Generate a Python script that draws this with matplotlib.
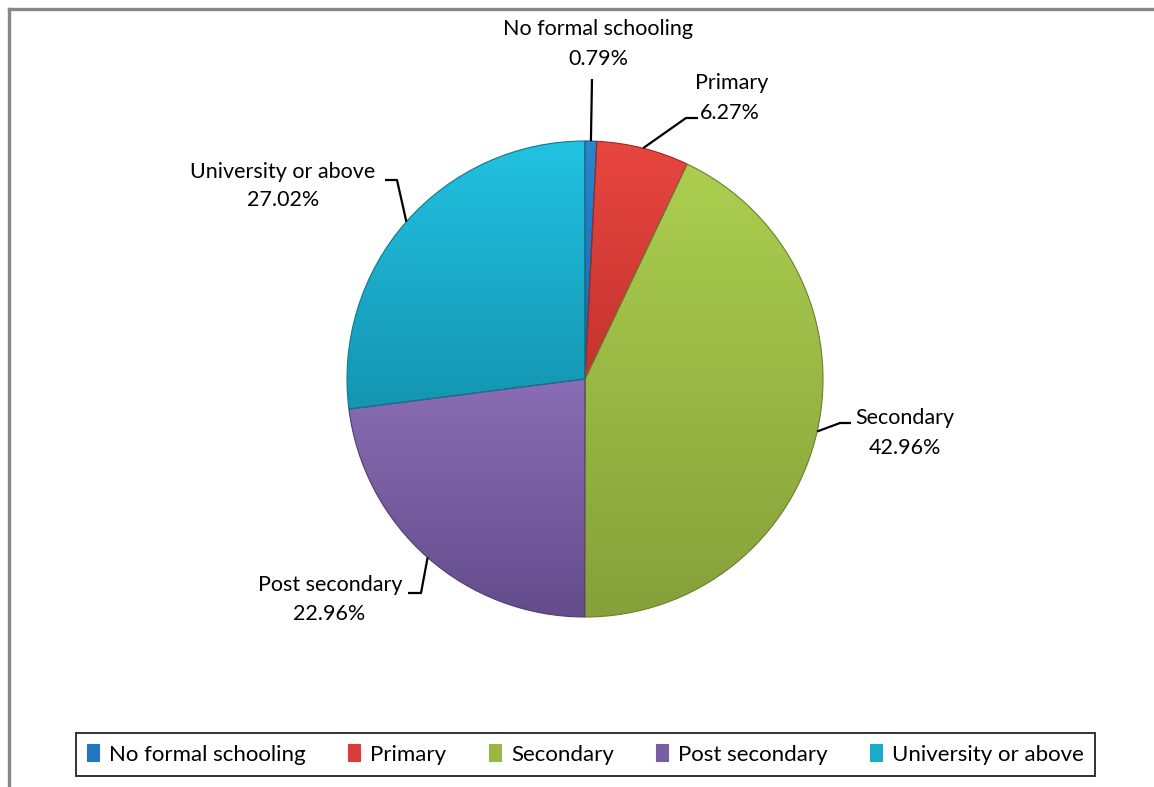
import matplotlib
matplotlib.use("Agg")
import matplotlib.pyplot as plt
import numpy as np
from matplotlib.colors import to_rgb, LinearSegmentedColormap
from matplotlib.lines import Line2D

# --- data ---
categories = ["No formal schooling", "Primary", "Secondary", "Post secondary", "University or above"]
shares = [0.79, 6.27, 42.96, 22.96, 27.02]
pct_labels = ["0.79%", "6.27%", "42.96%", "22.96%", "27.02%"]

# light (top) / dark (bottom) shade of each slice
top_colors = ["#2b86ce", "#e8463f", "#abce4f", "#8a6db4", "#22c2e2"]
bottom_colors = ["#1a66a8", "#c4332e", "#86a03a", "#644c8c", "#1495b1"]
base_colors = ["#2277be", "#d93d37", "#9ab744", "#7a5ea2", "#1aabcb"]

W, H = 1154, 787
CX, CY, R = 585, H - 379, 238

# label layout in pixels (x, y from top): name centre, pct centre, elbow points
label_pos = [
    ((598, 29), (598, 59), [(592, 79)]),
    ((732, 83), (730, 113), [(686, 118), (698, 118)]),
    ((905, 418), (905, 448), [(840, 423), (851, 423)]),
    ((330, 585), (329, 614), [(421, 593), (408, 593)]),
    ((283, 172), (283, 200), [(397, 180), (385, 180)]),
]

plt.rcParams['font.family'] = ['Lato', 'DejaVu Sans']

fig = plt.figure(figsize=(W / 100, H / 100), dpi=100)
ax = fig.add_axes([0, 0, 1, 1])

wedges, _ = ax.pie(shares, startangle=90, counterclock=False,
                   center=(CX, CY), radius=R, colors=base_colors,
                   wedgeprops=dict(linewidth=0.8))

# vertical gradient inside each wedge
for w, c_top, c_bot in zip(wedges, top_colors, bottom_colors):
    t = np.radians(np.linspace(w.theta1, w.theta2, 100))
    ys = np.concatenate([CY + R * np.sin(t), [CY]])
    y0, y1 = ys.min(), ys.max()
    cmap = LinearSegmentedColormap.from_list("g", [to_rgb(c_bot), to_rgb(c_top)])
    grad = np.linspace(0, 1, 256).reshape(-1, 1)
    im = ax.imshow(grad, cmap=cmap, origin="lower", aspect="auto",
                   extent=[CX - R, CX + R, y0, y1], zorder=w.get_zorder() + 0.1)
    im.set_clip_path(w)
    w.set_edgecolor(tuple(v * 0.8 for v in to_rgb(c_bot)))
    w.set_zorder(w.get_zorder() + 0.2)
    w.set_facecolor("none")

# labels with leader lines
for w, name, pct, (npos, ppos, elbow) in zip(wedges, categories, pct_labels, label_pos):
    mid = np.radians((w.theta1 + w.theta2) / 2)
    xs = [CX + R * np.cos(mid)] + [p[0] for p in elbow]
    ys = [CY + R * np.sin(mid)] + [H - p[1] for p in elbow]
    ax.plot(xs, ys, color="black", lw=1.6, solid_capstyle="butt", zorder=5)
    ax.text(npos[0], H - npos[1], name, ha="center", va="center", fontsize=15.5)
    ax.text(ppos[0], H - ppos[1], pct, ha="center", va="center", fontsize=15.5)

ax.set_xlim(0, W)
ax.set_ylim(0, H)
ax.axis("off")

# outer gray frame (top and left edges visible)
fig.add_artist(Line2D([9 / W, 1], [1 - 9 / H, 1 - 9 / H], color="#888888", lw=2.4,
                      transform=fig.transFigure))
fig.add_artist(Line2D([9 / W, 9 / W], [0, 1 - 9 / H], color="#888888", lw=2.4,
                      transform=fig.transFigure))

leg = fig.legend(wedges, categories, loc="center", ncol=5,
                 bbox_to_anchor=((78 + 1093) / 2 / W, 1 - 754.5 / H),
                 fontsize=16, frameon=True, fancybox=False, edgecolor="black",
                 handlelength=0.55, handleheight=0.8, handletextpad=0.45,
                 columnspacing=1.9, borderpad=0.5)
for h, c in zip(leg.legend_handles, base_colors):
    h.set_facecolor(c)
    h.set_edgecolor(c)
leg.get_frame().set_linewidth(1.4)

fig.savefig("out.png", dpi=100)
